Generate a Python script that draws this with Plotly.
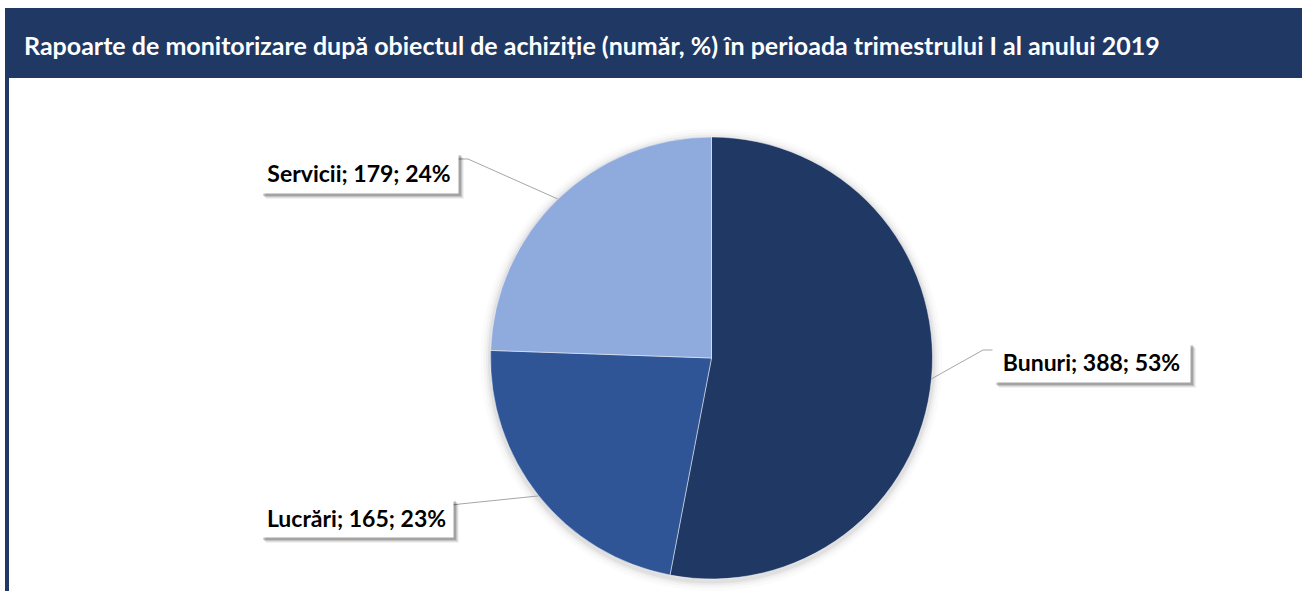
import math
import plotly.graph_objects as go

# ---- data ----
categories = ["Bunuri", "Lucrări", "Servicii"]
values = [388, 165, 179]
percents = [53, 23, 24]
title_text = "Rapoarte de monitorizare după obiectul de achiziție (număr, %) în perioada trimestrului I al anului 2019"

# ---- style / layout ----
W, H = 1302, 591
colors = ["#203864", "#2F5597", "#8FAADC"]
NAVY = "#203864"
FONT = "Lato"
cx, cy, R = 711.5, 358.0, 221.0
# label box centre (px) and elbow point (px) of leader line
label_center = {"Bunuri": (1091.5, 362), "Lucrări": (356.5, 517.5), "Servicii": (359, 172.5)}
label_size = {"Bunuri": (197, 40), "Lucrări": (193, 39), "Servicii": (198, 41)}
elbow_from = {"Bunuri": [(993, 350), (983, 350)], "Lucrări": [(453, 505), (460, 504)],
              "Servicii": [(458, 159), (468, 159)]}

fig = go.Figure()

# pie shadow (soft glow)
for dr, a in [(10, 0.015), (7, 0.025), (4.5, 0.035), (2.5, 0.05)]:
    fig.add_shape(type="circle", xref="x", yref="y", layer="below",
                  x0=cx - R - dr, x1=cx + R + dr, y0=cy - R - dr + 2, y1=cy + R + dr + 2,
                  fillcolor=f"rgba(0,0,0,{a})", line=dict(width=0))

fig.add_trace(go.Pie(
    labels=categories, values=values, sort=False, direction="clockwise", rotation=0,
    marker=dict(colors=colors, line=dict(color="rgba(255,255,255,0.6)", width=0.8)),
    textinfo="none", hoverinfo="skip", showlegend=False,
    domain=dict(x=[(cx - R) / W, (cx + R) / W], y=[(H - (cy + R)) / H, (H - (cy - R)) / H]),
))

# leader lines: from label elbow to the mid-angle point on the slice edge
total = sum(values)
cum = 0
for name, v in zip(categories, values):
    mid = (cum + v / 2) / total * 2 * math.pi
    cum += v
    px = cx + R * math.sin(mid)
    py = cy - R * math.cos(mid)
    pts = elbow_from[name] + [(px, py)]
    fig.add_trace(go.Scatter(x=[p[0] for p in pts], y=[p[1] for p in pts], mode="lines",
                             line=dict(color="#A6A6A6", width=1), hoverinfo="skip",
                             showlegend=False, xaxis="x", yaxis="y"))

# labels with box shadow
for name, v, p in zip(categories, values, percents):
    txt = f"{name}; {v}; {p}%"
    x, y = label_center[name]
    w, h = label_size[name]
    for d, a in [(6, 0.05), (5, 0.08), (4, 0.12), (3, 0.16)]:
        fig.add_shape(type="rect", xref="x", yref="y", layer="above",
                      x0=x - w / 2 + d, x1=x + w / 2 + d, y0=y - h / 2 + d, y1=y + h / 2 + d,
                      fillcolor=f"rgba(0,0,0,{a})", line=dict(width=0))
    fig.add_annotation(x=x, y=y, xref="x", yref="y", text=txt, showarrow=False,
                       width=w, height=h, borderpad=0, bgcolor="white",
                       font=dict(family=FONT, size=23, color="black", weight="bold"))

# title bar & frame
fig.add_shape(type="rect", xref="x", yref="y", x0=5, x1=W, y0=8, y1=78,
              fillcolor=NAVY, line=dict(width=0), layer="below")
fig.add_shape(type="rect", xref="x", yref="y", x0=5, x1=9, y0=78, y1=H,
              fillcolor=NAVY, line=dict(width=0), layer="below")
fig.add_annotation(x=22, y=45, xref="x", yref="y", xanchor="left", yanchor="middle",
                   text=title_text, showarrow=False,
                   font=dict(family=FONT, size=25, color="white", weight="bold"))

fig.update_layout(
    width=W, height=H, margin=dict(l=0, r=0, t=0, b=0),
    paper_bgcolor="white", plot_bgcolor="rgba(0,0,0,0)",
    xaxis=dict(range=[0, W], visible=False, fixedrange=True),
    yaxis=dict(range=[H, 0], visible=False, fixedrange=True),
    showlegend=False,
)
fig.write_html("out.html", config={"displayModeBar": False},
               post_script="document.body.style.margin='0';document.body.style.overflow='hidden';")
